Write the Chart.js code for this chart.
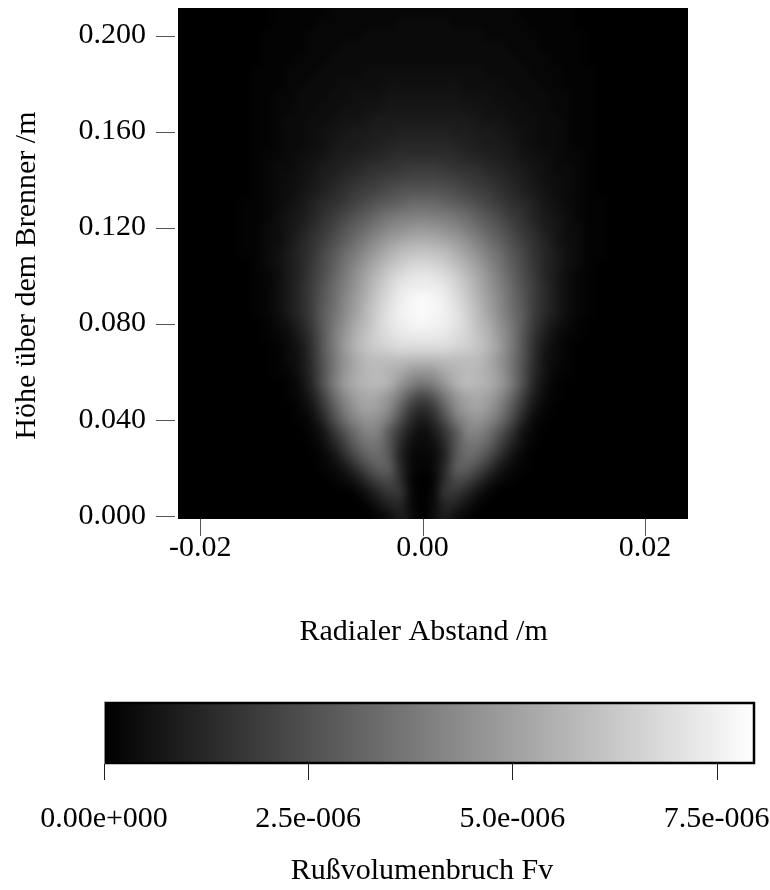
<!DOCTYPE html>
<html>
<head>
<meta charset="utf-8">
<script src="https://cdn.jsdelivr.net/npm/chart.js@4.4.1/dist/chart.umd.min.js"></script>
<style>
  html, body { margin: 0; padding: 0; background: #ffffff; }
  #wrap { position: relative; width: 770px; height: 890px; overflow: hidden; }
  #main { position: absolute; left: 0; top: 0; }
  #cbar { position: absolute; left: 0; top: 660px; }
</style>
</head>
<body>
<div id="wrap">
  <canvas id="main" width="770" height="660"></canvas>
  <canvas id="cbar" width="770" height="230"></canvas>
</div>
<script>
// ---------------- data ----------------
// radial positions of the grid columns (m)
const radialPositions = [-0.022,-0.021,-0.020,-0.019,-0.018,-0.017,-0.016,-0.015,-0.014,-0.013,-0.012,
  -0.011,-0.010,-0.009,-0.008,-0.007,-0.006,-0.005,-0.004,-0.003,-0.002,-0.001,0,
  0.001,0.002,0.003,0.004,0.005,0.006,0.007,0.008,0.009,0.010,0.011,0.012,
  0.013,0.014,0.015,0.016,0.017,0.018,0.019,0.020,0.021,0.022,0.023,0.024];
// heights above burner of the grid rows (m)
const heights = [0,0.005,0.010,0.015,0.020,0.025,0.030,0.035,0.040,0.045,0.050,0.055,0.060,0.065,
  0.070,0.075,0.080,0.085,0.090,0.095,0.100,0.105,0.110,0.115,0.120,0.125,0.130,0.135,0.140,
  0.145,0.150,0.155,0.160,0.165,0.170,0.175,0.180,0.185,0.190,0.195,0.200,0.205,0.210];
// soot volume fraction, in units of 1e-7 (row = height, column = radial position)
const FV_UNIT = 1e-7;
const sootFv = [
/*0.000*/ [0,0,0,0,0, 0,0,0,0,0, 0,0,0,0,0, 0,0,0, 2,5,9,4, 0, 4,9,5,2, 0,0,0,0,0, 0,0,0,0,0, 0,0,0,0,0, 0,0,0,0,0],
/*0.005*/ [0,0,0,0,0, 0,0,0,0,0, 0,0,0,0,0, 0,0, 2,6,11,12,3, 0, 3,12,11,6,2, 0,0,0,0,0, 0,0,0,0,0, 0,0,0,0,0, 0,0,0,0],
/*0.010*/ [0,0,0,0,0, 0,0,0,0,0, 0,0,0,0,0, 0, 2,6,12,17,16,3, 0, 3,16,17,12,6,2, 0,0,0,0,0, 0,0,0,0,0, 0,0,0,0,0, 0,0,0],
/*0.015*/ [0,0,0,0,0, 0,0,0,0,0, 0,0,0,0, 1,3,7,14,21,23,14,2, 0, 2,14,23,21,14,7,3,1, 0,0,0,0,0, 0,0,0,0,0, 0,0,0,0,0, 0],
/*0.020*/ [0,0,0,0,0, 0,0,0,0,0, 0,0,0, 1,3,7,15,23,29,28,13,3, 1, 3,13,28,29,23,15,7,3,1, 0,0,0,0,0, 0,0,0,0,0, 0,0,0,0,0],
/*0.025*/ [0,0,0,0,0, 0,0,0,0,0, 0,0,0, 2,6,14,23,31,33,27,11,3, 2, 3,11,27,33,31,23,14,6,2, 0,0,0,0,0, 0,0,0,0,0, 0,0,0,0,0],
/*0.030*/ [0,0,0,0,0, 0,0,0,0,0, 0,0, 1,4,11,20,30,36,36,27,13,5, 3, 5,13,27,36,36,30,20,11,4,1, 0,0,0,0,0, 0,0,0,0,0, 0,0,0,0],
/*0.035*/ [0,0,0,0,0, 0,0,0,0,0, 0,0, 2,6,16,26,35,41,40,28,17,8, 4, 8,17,28,40,41,35,26,16,6,2, 0,0,0,0,0, 0,0,0,0,0, 0,0,0,0],
/*0.040*/ [0,0,0,0,0, 0,0,0,0,0, 0, 1,3,11,23,34,42,46,44,37,24,13, 8, 13,24,37,44,46,42,34,23,11,3,1, 0,0,0,0,0, 0,0,0,0,0, 0,0,0],
/*0.045*/ [0,0,0,0,0, 0,0,0,0,0, 0, 2,6,16,28,39,47,51,49,43,31,19, 14, 19,31,43,49,51,47,39,28,16,6,2, 0,0,0,0,0, 0,0,0,0,0, 0,0,0],
/*0.050*/ [0,0,0,0,0, 0,0,0,0,0, 1,3,9,20,33,43,50,53,52,47,38,28, 23, 28,38,47,52,53,50,43,33,20,9,3,1, 0,0,0,0,0, 0,0,0,0,0, 0,0],
/*0.055*/ [0,0,0,0,0, 0,0,0,0,0, 1,4,12,25,38,48,54,57,58,55,47,40, 37, 40,47,55,58,57,54,48,38,25,12,4,1, 0,0,0,0,0, 0,0,0,0,0, 0,0],
/*0.060*/ [0,0,0,0,0, 0,0,0,0, 1,2,6,13,25,37,47,53,57,58,56,53,48, 47, 48,53,56,58,57,53,47,37,25,13,6,2,1, 0,0,0,0,0, 0,0,0,0,0, 0],
/*0.065*/ [0,0,0,0,0, 0,0,0,0, 1,3,6,14,26,37,46,53,58,59,59,59,58, 58, 58,59,59,59,58,53,46,37,26,14,6,3,1, 0,0,0,0,0, 0,0,0,0,0, 0],
/*0.070*/ [0,0,0,0,0, 0,0,0,0, 1,3,7,15,27,38,48,56,61,64,66,68,68, 68, 68,68,66,64,61,56,48,38,27,15,7,3,1, 0,0,0,0,0, 0,0,0,0,0, 0],
/*0.075*/ [0,0,0,0,0, 0,0,0, 1,2,4,9,16,27,38,47,55,61,66,69,72,73, 73, 73,72,69,66,61,55,47,38,27,16,9,4,2,1, 0,0,0,0,0, 0,0,0,0,0],
/*0.080*/ [0,0,0,0,0, 0,0,0, 1,3,6,11,18,28,37,45,53,59,66,71,74,76, 77, 76,74,71,66,59,53,45,37,28,18,11,6,3,1, 0,0,0,0,0, 0,0,0,0,0],
/*0.085*/ [0,0,0,0,0, 0,0, 1,2,4,8,13,19,28,35,43,50,58,65,71,75,77, 78, 77,75,71,65,58,50,43,35,28,19,13,8,4,2,1, 0,0,0,0,0, 0,0,0,0],
/*0.090*/ [0,0,0,0,0, 0,0, 1,2,4,8,13,19,27,34,42,49,56,63,69,74,77, 78, 77,74,69,63,56,49,42,34,27,19,13,8,4,2,1, 0,0,0,0,0, 0,0,0,0],
/*0.095*/ [0,0,0,0,0, 0,0, 1,2,4,8,13,19,26,33,40,47,54,61,67,72,74, 75, 74,72,67,61,54,47,40,33,26,19,13,8,4,2,1, 0,0,0,0,0, 0,0,0,0],
/*0.100*/ [0,0,0,0,0, 0,0, 1,2,4,8,12,18,24,31,38,45,52,58,64,68,71, 72, 71,68,64,58,52,45,38,31,24,18,12,8,4,2,1, 0,0,0,0,0, 0,0,0,0],
/*0.105*/ [0,0,0,0,0, 0,0, 1,3,5,8,12,17,23,29,36,42,48,54,59,63,66, 67, 66,63,59,54,48,42,36,29,23,17,12,8,5,3,1, 0,0,0,0,0, 0,0,0,0],
/*0.110*/ [0,0,0,0,0, 0, 1,1,3,5,8,12,16,22,27,33,38,44,49,54,58,60, 61, 60,58,54,49,44,38,33,27,22,16,12,8,5,3,1,1, 0,0,0,0,0, 0,0,0],
/*0.115*/ [0,0,0,0,0, 0, 1,1,3,4,7,11,15,19,24,29,34,39,44,48,51,53, 54, 53,51,48,44,39,34,29,24,19,15,11,7,4,3,1,1, 0,0,0,0,0, 0,0,0],
/*0.120*/ [0,0,0,0,0, 0, 1,1,3,4,7,9,13,17,21,26,30,34,38,42,44,46, 47, 46,44,42,38,34,30,26,21,17,13,9,7,4,3,1,1, 0,0,0,0,0, 0,0,0],
/*0.125*/ [0,0,0,0,0, 0, 1,1,2,4,6,8,11,15,18,22,26,29,33,36,38,39, 40, 39,38,36,33,29,26,22,18,15,11,8,6,4,2,1,1, 0,0,0,0,0, 0,0,0],
/*0.130*/ [0,0,0,0,0, 0, 1,1,2,3,5,7,10,13,15,18,21,24,27,29,31,33, 33, 33,31,29,27,24,21,18,15,13,10,7,5,3,2,1,1, 0,0,0,0,0, 0,0,0],
/*0.135*/ [0,0,0,0,0, 0,0, 1,2,3,4,6,8,10,13,15,18,20,22,24,26,27, 27, 27,26,24,22,20,18,15,13,10,8,6,4,3,2,1, 0,0,0,0,0, 0,0,0,0],
/*0.140*/ [0,0,0,0,0, 0,0, 1,2,3,4,5,7,9,11,13,15,17,18,20,21,22, 22, 22,21,20,18,17,15,13,11,9,7,5,4,3,2,1, 0,0,0,0,0, 0,0,0,0],
/*0.145*/ [0,0,0,0,0, 0,0, 1,2,3,3,5,6,8,9,11,12,14,15,16,17,18, 18, 18,17,16,15,14,12,11,9,8,6,5,3,3,2,1, 0,0,0,0,0, 0,0,0,0],
/*0.150*/ [0,0,0,0,0, 0,0, 1,2,2,3,4,5,6,8,9,10,11,12,13,14,14, 14, 14,14,13,12,11,10,9,8,6,5,4,3,2,2,1, 0,0,0,0,0, 0,0,0,0],
/*0.155*/ [0,0,0,0,0, 0,0, 1,1,2,3,3,4,5,7,8,8,9,10,11,12,12, 12, 12,12,11,10,9,8,8,7,5,4,3,3,2,1,1, 0,0,0,0,0, 0,0,0,0],
/*0.160*/ [0,0,0,0,0, 0,0, 1,1,2,3,3,4,5,6,7,8,8,9,9,10,10, 10, 10,10,9,9,8,8,7,6,5,4,3,3,2,1,1, 0,0,0,0,0, 0,0,0,0],
/*0.165*/ [0,0,0,0,0, 0,0, 1,1,2,3,3,4,4,5,6,6,7,8,8,8,8, 8, 8,8,8,8,7,6,6,5,4,4,3,3,2,1,1, 0,0,0,0,0, 0,0,0,0],
/*0.170*/ [0,0,0,0,0, 0,0, 1,1,2,2,3,3,4,4,5,5,6,6,7,7,7, 7, 7,7,7,6,6,5,5,4,4,3,3,2,2,1,1, 0,0,0,0,0, 0,0,0,0],
/*0.175*/ [0,0,0,0,0, 0,0, 1,1,2,2,3,3,3,4,4,5,5,5,6,6,6, 6, 6,6,6,5,5,5,4,4,3,3,3,2,2,1,1, 0,0,0,0,0, 0,0,0,0],
/*0.180*/ [0,0,0,0,0, 0,0, 1,1,1,2,2,3,3,3,4,4,4,4,5,5,5, 5, 5,5,5,4,4,4,4,3,3,3,2,2,1,1,1, 0,0,0,0,0, 0,0,0,0],
/*0.185*/ [0,0,0,0,0, 0,0, 1,1,1,2,2,2,3,3,3,3,4,4,4,4,4, 4, 4,4,4,4,4,3,3,3,3,2,2,2,1,1,1, 0,0,0,0,0, 0,0,0,0],
/*0.190*/ [0,0,0,0,0, 0,0,0, 1,1,1,2,2,2,3,3,3,3,3,3,3,3, 3, 3,3,3,3,3,3,3,3,2,2,2,1,1,1, 0,0,0,0,0, 0,0,0,0,0],
/*0.195*/ [0,0,0,0,0, 0,0,0, 1,1,1,1,2,2,2,3,3,3,3,3,3,3, 3, 3,3,3,3,3,3,3,2,2,2,1,1,1,1, 0,0,0,0,0, 0,0,0,0,0],
/*0.200*/ [0,0,0,0,0, 0,0,0, 1,1,1,1,2,2,2,2,2,3,3,3,3,3, 3, 3,3,3,3,3,2,2,2,2,2,1,1,1,1, 0,0,0,0,0, 0,0,0,0,0],
/*0.205*/ [0,0,0,0,0, 0,0,0,0, 1,1,1,1,2,2,2,2,2,2,2,3,3, 3, 3,3,2,2,2,2,2,2,2,1,1,1,1, 0,0,0,0,0, 0,0,0,0,0, 0],
/*0.210*/ [0,0,0,0,0, 0,0,0,0, 1,1,1,1,1,2,2,2,2,2,2,2,2, 2, 2,2,2,2,2,2,2,2,1,1,1,1,1, 0,0,0,0,0, 0,0,0,0,0, 0]
];
// axis ranges and ticks
const xRange = [-0.022, 0.02387];
const yRange = [-0.0014, 0.2115];
const xTickValues = [-0.02, 0, 0.02];
const xTickLabels = ['-0.02', '0.00', '0.02'];
const yTickValues = [0, 0.04, 0.08, 0.12, 0.16, 0.2];
const yTickLabels = ['0.000', '0.040', '0.080', '0.120', '0.160', '0.200'];
const colorbarRange = [0, 7.97e-6];
const cbTickValues = [0, 2.5e-6, 5.0e-6, 7.5e-6];
const cbTickLabels = ['0.00e+000', '2.5e-006', '5.0e-006', '7.5e-006'];
const xTitle = 'Radialer Abstand /m';
const yTitle = 'Höhe über dem Brenner /m';
const cbTitle = 'Rußvolumenbruch Fv';

// ---------------- rendering ----------------
const FONT = "'Liberation Serif', 'Times New Roman', serif";
Chart.defaults.font.family = FONT;
Chart.defaults.font.size = 30;
Chart.defaults.color = '#000';

function grayOf(v) {
  const t = Math.max(0, Math.min(1, (v - colorbarRange[0]) / (colorbarRange[1] - colorbarRange[0])));
  return Math.round(t * 255);
}
function noPad(s) { s.paddingTop = 0; s.paddingBottom = 0; s.paddingLeft = 0; s.paddingRight = 0; }

const heatmapPlugin = {
  id: 'heatmap',
  beforeDatasetsDraw(chart) {
    const {ctx, chartArea: a, scales: {x, y}} = chart;
    const nx = radialPositions.length, ny = heights.length;
    const off = document.createElement('canvas');
    off.width = nx; off.height = ny;
    const octx = off.getContext('2d');
    const img = octx.createImageData(nx, ny);
    for (let j = 0; j < ny; j++) {
      const row = sootFv[ny - 1 - j];
      for (let i = 0; i < nx; i++) {
        const g = grayOf((row[i] || 0) * FV_UNIT);
        const k = (j * nx + i) * 4;
        img.data[k] = g; img.data[k + 1] = g; img.data[k + 2] = g; img.data[k + 3] = 255;
      }
    }
    octx.putImageData(img, 0, 0);
    const dx = radialPositions[1] - radialPositions[0];
    const dy = heights[1] - heights[0];
    const x0 = x.getPixelForValue(radialPositions[0] - dx / 2);
    const x1 = x.getPixelForValue(radialPositions[nx - 1] + dx / 2);
    const y0 = y.getPixelForValue(heights[ny - 1] + dy / 2);
    const y1 = y.getPixelForValue(heights[0] - dy / 2);
    ctx.save();
    ctx.beginPath();
    ctx.rect(a.left, a.top, a.right - a.left, a.bottom - a.top);
    ctx.clip();
    ctx.fillStyle = '#000';
    ctx.fillRect(a.left, a.top, a.right - a.left, a.bottom - a.top);
    ctx.imageSmoothingEnabled = true;
    ctx.imageSmoothingQuality = 'high';
    ctx.drawImage(off, x0, y0, x1 - x0, y1 - y0);
    ctx.restore();
  },
  afterDraw(chart) {
    const {ctx, chartArea: a, scales: {x, y}} = chart;
    ctx.save();
    ctx.strokeStyle = '#555';
    ctx.lineWidth = 1;
    ctx.beginPath();
    xTickValues.forEach(v => {
      const px = Math.round(x.getPixelForValue(v)) + 0.5;
      ctx.moveTo(px, a.bottom); ctx.lineTo(px, a.bottom + 17);
    });
    yTickValues.forEach(v => {
      const py = Math.round(y.getPixelForValue(v)) + 0.5;
      ctx.moveTo(a.left - 22, py); ctx.lineTo(a.left - 3, py);
    });
    ctx.stroke();
    ctx.fillStyle = '#000';
    ctx.font = '30px ' + FONT;
    ctx.textAlign = 'center';
    ctx.textBaseline = 'middle';
    ctx.fillText(xTitle, x.getPixelForValue(0) + 1, 632);
    ctx.translate(27, y.getPixelForValue(0.1));
    ctx.rotate(-Math.PI / 2);
    ctx.fillText(yTitle, 0, 0);
    ctx.restore();
  }
};

const cellPoints = [];
heights.forEach((h, j) => radialPositions.forEach((r, i) => cellPoints.push({x: r, y: h, v: sootFv[j][i]})));

new Chart(document.getElementById('main'), {
  type: 'scatter',
  data: { datasets: [{ label: 'Fv', data: cellPoints, pointRadius: 0, pointHoverRadius: 0 }] },
  options: {
    responsive: false,
    animation: false,
    events: [],
    layout: { padding: { left: 0, top: 8, right: 82, bottom: 0 } },
    plugins: { legend: { display: false }, tooltip: { enabled: false } },
    scales: {
      x: {
        type: 'linear', position: 'bottom', min: xRange[0], max: xRange[1],
        afterBuildTicks: s => { s.ticks = xTickValues.map(v => ({ value: v })); },
        afterFit: s => { s.height = 141; noPad(s); },
        ticks: { callback: (v, i) => xTickLabels[i], padding: 11, maxRotation: 0, autoSkip: false, color: '#000', font: { size: 30 } },
        grid: { drawOnChartArea: false, drawTicks: false, color: 'rgba(0,0,0,0)' },
        border: { display: false },
        title: { display: false }
      },
      y: {
        type: 'linear', position: 'left', min: yRange[0], max: yRange[1],
        afterBuildTicks: s => { s.ticks = yTickValues.map(v => ({ value: v })); },
        afterFit: s => { s.width = 178; noPad(s); },
        ticks: { callback: (v, i) => yTickLabels[i], padding: 32, autoSkip: false, color: '#000', font: { size: 30 } },
        grid: { drawOnChartArea: false, drawTicks: false, color: 'rgba(0,0,0,0)' },
        border: { display: false },
        title: { display: false }
      }
    }
  },
  plugins: [heatmapPlugin]
});

const colorbarPlugin = {
  id: 'colorbar',
  beforeDatasetsDraw(chart) {
    const {ctx, chartArea: a, scales: {x}} = chart;
    const p0 = x.getPixelForValue(colorbarRange[0]);
    const p1 = x.getPixelForValue(colorbarRange[1]);
    const grad = ctx.createLinearGradient(p0, 0, p1, 0);
    grad.addColorStop(0, 'rgb(0,0,0)');
    grad.addColorStop(1, 'rgb(255,255,255)');
    ctx.save();
    ctx.fillStyle = grad;
    ctx.fillRect(p0, a.top, p1 - p0, a.bottom - a.top);
    ctx.strokeStyle = '#000';
    ctx.lineWidth = 2.5;
    ctx.beginPath();
    ctx.moveTo(p0, a.top + 1); ctx.lineTo(p1 - 1, a.top + 1); ctx.lineTo(p1 - 1, a.bottom - 1); ctx.lineTo(p0, a.bottom - 1);
    ctx.stroke();
    ctx.strokeStyle = '#888';
    ctx.lineWidth = 1;
    ctx.beginPath();
    ctx.moveTo(p0 + 0.5, a.top); ctx.lineTo(p0 + 0.5, a.bottom);
    ctx.stroke();
    ctx.restore();
  },
  afterDraw(chart) {
    const {ctx, chartArea: a, scales: {x}} = chart;
    ctx.save();
    ctx.strokeStyle = '#222';
    ctx.lineWidth = 1;
    ctx.beginPath();
    cbTickValues.forEach(v => {
      const px = Math.round(x.getPixelForValue(v)) + 0.5;
      ctx.moveTo(px, a.bottom); ctx.lineTo(px, a.bottom + 16);
    });
    ctx.stroke();
    ctx.fillStyle = '#000';
    ctx.font = '30px ' + FONT;
    ctx.textAlign = 'center';
    ctx.textBaseline = 'middle';
    ctx.fillText(cbTitle, 422, 211);
    ctx.restore();
  }
};

new Chart(document.getElementById('cbar'), {
  type: 'scatter',
  data: { datasets: [{ label: 'scale', data: [], pointRadius: 0 }] },
  options: {
    responsive: false,
    animation: false,
    events: [],
    layout: { padding: { left: 104, top: 42, right: 15, bottom: 0 } },
    plugins: { legend: { display: false }, tooltip: { enabled: false } },
    scales: {
      x: {
        type: 'linear', position: 'bottom', min: colorbarRange[0], max: colorbarRange[1],
        afterBuildTicks: s => { s.ticks = cbTickValues.map(v => ({ value: v })); },
        afterFit: s => { s.height = 126; noPad(s); },
        ticks: { callback: (v, i) => cbTickLabels[i], padding: 37, maxRotation: 0, autoSkip: false, color: '#000', font: { size: 30 } },
        grid: { drawOnChartArea: false, drawTicks: false, color: 'rgba(0,0,0,0)' },
        border: { display: false }
      },
      y: { display: false, min: 0, max: 1 }
    }
  },
  plugins: [colorbarPlugin]
});

// sanity check of grid shape
const badRows = sootFv.map((r, j) => r.length !== radialPositions.length ? heights[j] + ':' + r.length : null).filter(Boolean);
if (badRows.length || sootFv.length !== heights.length) {
  setTimeout(() => { throw new Error('Grid shape mismatch: rows=' + sootFv.length + ' bad=' + badRows.join(',')); }, 0);
}
</script>
</body>
</html>
